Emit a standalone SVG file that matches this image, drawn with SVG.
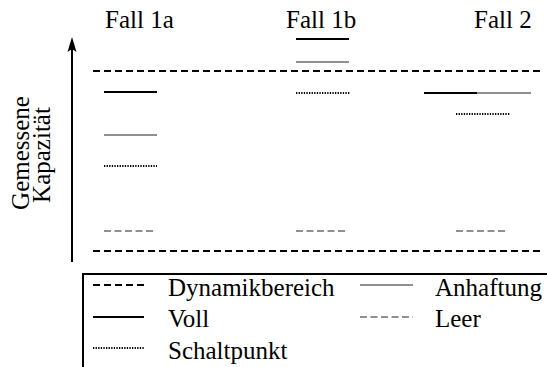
<svg xmlns="http://www.w3.org/2000/svg" width="547" height="367" viewBox="0 0 547 367">
  <style>
    .t { font-family: 'Liberation Serif', 'DejaVu Serif', serif; font-size: 25px; fill: #000; }
    .dyn { stroke: #000; stroke-width: 2; stroke-dasharray: 7 4; fill: none; }
    .voll { stroke: #000; stroke-width: 2; fill: none; }
    .anh { stroke: #909090; stroke-width: 2; fill: none; }
    .leer { stroke: #909090; stroke-width: 2; stroke-dasharray: 7 3.5; fill: none; }
    .schalt { stroke: #000; stroke-width: 2; stroke-dasharray: 1.3 1.3; fill: none; }
  </style>
  <rect width="547" height="367" fill="#fff"/>

  <g id="titles">
    <text class="t" x="105" y="28">Fall 1a</text>
    <text class="t" x="286" y="28">Fall 1b</text>
    <text class="t" x="474" y="28">Fall 2</text>
  </g>

  <g id="y-axis">
    <line x1="72" y1="46" x2="72" y2="262" stroke="#000" stroke-width="2"/>
    <path d="M72,37 L67.5,52 L72,49 L76.5,52 Z" fill="#000"/>
    <text class="t" transform="translate(29,153) rotate(-90)" text-anchor="middle">Gemessene</text>
    <text class="t" transform="translate(50,155) rotate(-90)" text-anchor="middle">Kapazität</text>
  </g>

  <g id="dynamikbereich">
    <line class="dyn" x1="93" y1="71" x2="540" y2="71"/>
    <line class="dyn" x1="93" y1="251" x2="540" y2="251"/>
  </g>

  <g id="fall-1a">
    <line class="voll" x1="104" y1="92" x2="157" y2="92"/>
    <line class="anh" x1="104" y1="135" x2="157" y2="135"/>
    <line class="schalt" x1="104" y1="166" x2="157" y2="166"/>
    <line class="leer" x1="104" y1="231" x2="156" y2="231"/>
  </g>

  <g id="fall-1b">
    <line class="voll" x1="296" y1="39" x2="349" y2="39"/>
    <line class="anh" x1="296" y1="62" x2="349" y2="62"/>
    <line class="schalt" x1="296" y1="93" x2="350" y2="93"/>
    <line class="leer" x1="296" y1="231" x2="348" y2="231"/>
  </g>

  <g id="fall-2">
    <line class="voll" x1="424" y1="93" x2="477" y2="93"/>
    <line class="anh" x1="477" y1="93" x2="531" y2="93"/>
    <line class="schalt" x1="456" y1="114" x2="510" y2="114"/>
    <line class="leer" x1="456" y1="231" x2="508" y2="231"/>
  </g>

  <g id="legend">
    <rect x="83" y="274" width="470" height="100" fill="none" stroke="#000" stroke-width="2"/>
    <line class="dyn" x1="93" y1="285" x2="144" y2="285"/>
    <text class="t" x="168" y="296">Dynamikbereich</text>
    <line class="voll" x1="93" y1="317" x2="144" y2="317"/>
    <text class="t" x="168" y="327">Voll</text>
    <line class="schalt" x1="93" y1="348" x2="144" y2="348"/>
    <text class="t" x="168" y="359">Schaltpunkt</text>
    <line class="anh" x1="360" y1="285" x2="413" y2="285"/>
    <text class="t" x="435" y="296">Anhaftung</text>
    <line class="leer" x1="360" y1="317" x2="413" y2="317"/>
    <text class="t" x="435" y="327">Leer</text>
  </g>
</svg>
